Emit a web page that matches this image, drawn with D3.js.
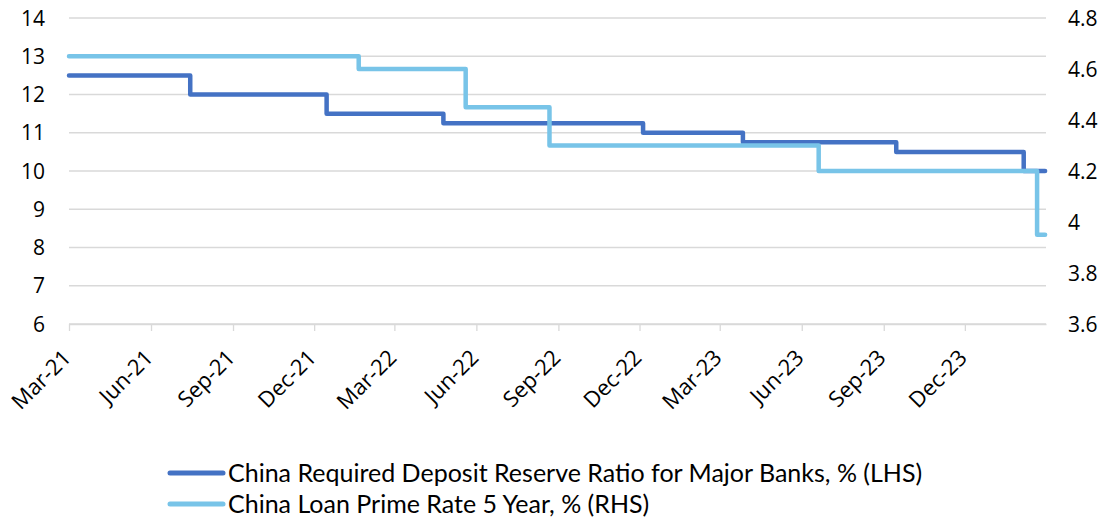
<!DOCTYPE html>
<html><head><meta charset="utf-8">
<script src="https://cdn.jsdelivr.net/npm/d3@7"></script>
<style>body{margin:0;background:#fff}svg{display:block}</style>
</head><body>
<svg id="c" width="1110" height="523"></svg>
<script>
// Data
const rrrDates = ["2021-03-01","2021-07-15","2021-12-15","2022-04-25","2022-12-05","2023-03-27","2023-09-15","2024-02-05","2024-02-29"];
const rrrValues = [12.5,12.0,11.5,11.25,11.0,10.75,10.5,10.0,10.0];
const lprDates = ["2021-03-01","2022-01-20","2022-05-20","2022-08-22","2023-06-20","2024-02-20","2024-02-29"];
const lprValues = [4.65,4.60,4.45,4.30,4.20,3.95,3.95];
const leftTicks = [6,7,8,9,10,11,12,13,14];
const rightTicks = [3.6,3.8,4.0,4.2,4.4,4.6,4.8];
const xTickLabels = ["Mar-21","Jun-21","Sep-21","Dec-21","Mar-22","Jun-22","Sep-22","Dec-22","Mar-23","Jun-23","Sep-23","Dec-23"];
const seriesNames = ["China Required Deposit Reserve Ratio for Major Banks, % (LHS)","China Loan Prime Rate 5 Year, % (RHS)"];
const colors = ["#4472c4","#78c4e8"];

const parse = d3.timeParse("%Y-%m-%d");
const svg = d3.select("#c");
const L = 69, R = 1046, T = 18, B = 324;
const x = d3.scaleTime().domain([parse("2021-03-01"), parse("2024-03-01")]).range([L, R]);
const yL = d3.scaleLinear().domain([6,14]).range([B, T]);
const yR = d3.scaleLinear().domain([3.6,4.8]).range([B, T]);
const font = "'Open Sans', sans-serif";

// gridlines
svg.append("g").selectAll("line").data(leftTicks).join("line")
  .attr("x1", L).attr("x2", R).attr("y1", d => yL(d)).attr("y2", d => yL(d))
  .attr("stroke", "#d9d9d9").attr("stroke-width", 1.3);

// left axis labels
svg.append("g").selectAll("text").data(leftTicks).join("text")
  .attr("x", 45).attr("y", d => yL(d)).attr("dy", "0.36em").attr("text-anchor", "end")
  .attr("font-family", font).attr("font-size", 21).attr("fill", "#000").text(d => d);
// right axis labels
svg.append("g").selectAll("text").data(rightTicks).join("text")
  .attr("x", 1068).attr("y", d => yR(d)).attr("dy", "0.36em").attr("text-anchor", "start")
  .attr("font-family", font).attr("font-size", 21).attr("fill", "#000").text(d => d3.format("~g")(d));

// x axis
const xAxis = d3.axisBottom(x)
  .tickValues(xTickLabels.map(s => d3.timeParse("%b-%y")(s)))
  .tickFormat((d, i) => xTickLabels[i]).tickSize(7).tickSizeOuter(0);
const gx = svg.append("g").attr("transform", `translate(0,${B})`).call(xAxis);
gx.select(".domain").attr("stroke", "#d9d9d9").attr("stroke-width", 1.3);
gx.selectAll(".tick line").attr("stroke", "#d9d9d9").attr("stroke-width", 1.3);
gx.selectAll(".tick text")
  .attr("font-family", font).attr("font-size", 22).attr("fill", "#000")
  .attr("text-anchor", "end").attr("dy", null).attr("y", 0)
  .attr("transform", "translate(3,35) rotate(-45)");

// lines
const mk = (dates, vals) => dates.map((d, i) => ({ d: parse(d), v: vals[i] }));
const rrr = mk(rrrDates, rrrValues), lpr = mk(lprDates, lprValues);
svg.append("path").datum(rrr)
  .attr("d", d3.line().x(p => x(p.d)).y(p => yL(p.v)).curve(d3.curveStepAfter))
  .attr("fill", "none").attr("stroke", colors[0]).attr("stroke-width", 4.5)
  .attr("stroke-linejoin", "round").attr("stroke-linecap", "round");
svg.append("path").datum(lpr)
  .attr("d", d3.line().x(p => x(p.d)).y(p => yR(p.v)).curve(d3.curveStepAfter))
  .attr("fill", "none").attr("stroke", colors[1]).attr("stroke-width", 4.5)
  .attr("stroke-linejoin", "round").attr("stroke-linecap", "round");

// legend
const lg = svg.append("g");
seriesNames.forEach((n, i) => {
  const yy = 473 + i * 31;
  lg.append("line").attr("x1", 170).attr("x2", 223).attr("y1", yy).attr("y2", yy)
    .attr("stroke", colors[i]).attr("stroke-width", 5).attr("stroke-linecap", "round");
  lg.append("text").attr("x", 228).attr("y", yy).attr("dy", "0.36em")
    .attr("font-family", "Lato, sans-serif").attr("font-size", 25).attr("fill", "#000").text(n);
});
</script>
</body></html>
